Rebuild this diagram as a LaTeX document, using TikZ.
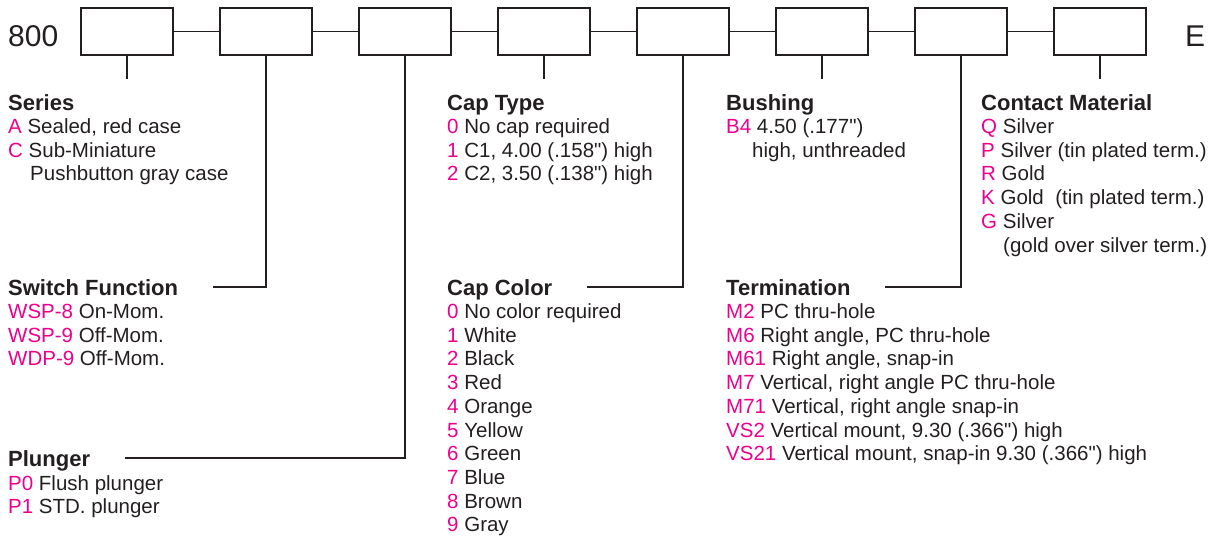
\documentclass[tikz,border=0pt]{standalone}
\usepackage{fontspec}
\setmainfont{Liberation Sans}[Ligatures=TeXOff]
\usepackage{tikz}
\usetikzlibrary{positioning}
\definecolor{ink}{HTML}{231F20}
\definecolor{code}{HTML}{EC008C}
\newcommand{\cd}[1]{\textcolor{code}{#1}}
\newcommand{\inch}{\symbol{34}}
\tikzset{>=latex}

\begin{document}
\begin{tikzpicture}[x=1pt,y=-1pt,
  field/.style={draw=ink,line width=1.8pt,rectangle,minimum width=92pt,minimum height=47pt,inner sep=0pt,outer sep=0pt},
  head/.style={anchor=base west,inner sep=0pt,text height=16pt,text depth=0pt,font=\fontsize{22}{24}\selectfont\bfseries,text=ink},
  items/.style={anchor=base west,inner sep=0pt,align=left,font=\fontsize{20.5}{23.7}\selectfont,text=ink},
  wire/.style={draw=ink,line width=1.8pt}]

\useasboundingbox (0,0) rectangle (1209,535);

\node (prefix) [anchor=base west,inner sep=0pt,font=\fontsize{30}{32}\selectfont,text=ink] at (8,47) {800};
\node (b1) [field] at (127,31.5) {};
\node (b2) [field,right=47pt of b1] {};
\node (b3) [field,right=47pt of b2] {};
\node (b4) [field,right=47pt of b3] {};
\node (b5) [field,right=47pt of b4] {};
\node (b6) [field,right=47pt of b5] {};
\node (b7) [field,right=47pt of b6] {};
\node (b8) [field,right=47pt of b7] {};
\node (suffix) [anchor=base west,inner sep=0pt,font=\fontsize{30}{32}\selectfont,text=ink] at (1185,47) {E};

\foreach \a/\b in {b1/b2,b2/b3,b3/b4,b4/b5,b5/b6,b6/b7,b7/b8} \draw [wire] (\a) -- (\b);
\foreach \x in {b1,b4,b6,b8} \draw [wire] (\x.south) -- ++(0,24);

% upper row (list nodes sit on the baseline of their last line)
\node (series) [head] at (8,110) {Series};
\node (seriesList) [items] at (8,180.9) {\cd{A} Sealed, red case\\ \cd{C} Sub-Miniature\\ \hspace*{22pt}Pushbutton gray case};
\node (capType) [head] at (447,110) {Cap Type};
\node (capTypeList) [items] at (447,180.9) {\cd{0} No cap required\\ \cd{1} C1, 4.00 (.158\inch) high\\ \cd{2} C2, 3.50 (.138\inch) high};
\node (bushing) [head] at (726,110) {Bushing};
\node (bushingList) [items] at (726,157.2) {\cd{B4} 4.50 (.177\inch)\\ \hspace*{26pt}high, unthreaded};
\node (contact) [head] at (981,110) {Contact Material};
\node (contactList) [items] at (981,252) {\cd{Q} Silver\\ \cd{P} Silver (tin plated term.)\\ \cd{R} Gold\\ \cd{K} Gold\ \ (tin plated term.)\\ \cd{G} Silver\\ \hspace*{22pt}(gold over silver term.)};

% lower rows
\node (switch) [head] at (8,295) {Switch Function};
\node (switchList) [items] at (8,365.9) {\cd{WSP-8} On-Mom.\\ \cd{WSP-9} Off-Mom.\\ \cd{WDP-9} Off-Mom.};
\node (capColor) [head] at (447,295) {Cap Color};
\node (capColorList) [items] at (447,531.8) {\cd{0} No color required\\ \cd{1} White\\ \cd{2} Black\\ \cd{3} Red\\ \cd{4} Orange\\ \cd{5} Yellow\\ \cd{6} Green\\ \cd{7} Blue\\ \cd{8} Brown\\ \cd{9} Gray};
\node (termination) [head] at (726,295) {Termination};
\node (terminationList) [items] at (726,460.7) {\cd{M2} PC thru-hole\\ \cd{M6} Right angle, PC thru-hole\\ \cd{M61} Right angle, snap-in\\ \cd{M7} Vertical, right angle PC thru-hole\\ \cd{M71} Vertical, right angle snap-in\\ \cd{VS2} Vertical mount, 9.30 (.366\inch) high\\ \cd{VS21} Vertical mount, snap-in 9.30 (.366\inch) high};
\node (plunger) [head] at (8,466) {Plunger};
\node (plungerList) [items] at (8,513.7) {\cd{P0} Flush plunger\\ \cd{P1} STD. plunger};

\foreach \x/\y in {b2/switch,b3/plunger,b5/capColor,b7/termination}
  \draw [wire,shorten >=34.5pt] (\x.south) |- (\y.east);

\end{tikzpicture}
\end{document}
